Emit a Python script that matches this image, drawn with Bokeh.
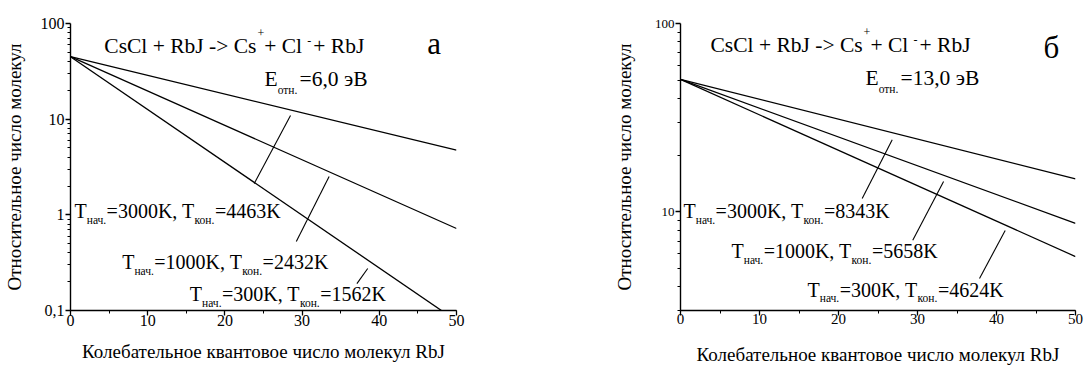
from bokeh.plotting import figure
from bokeh.models import Label, FixedTicker, SingleIntervalTicker, CustomJSTickFormatter, Range1d
from bokeh.layouts import row
from bokeh.embed import file_html
from bokeh.resources import INLINE

FONT = "Liberation Serif"

# ---------------- data ----------------
quantum_number = [0, 50]
# panel a (E = 6,0 eV)
a_3000 = [45.0, 4.75]
a_1000 = [45.0, 0.72]
a_300 = [45.0, 0.078]
# panel b (E = 13,0 eV)
b_3000 = [50.5, 15.0]
b_1000 = [50.5, 8.7]
b_300 = [50.5, 5.8]

a_labels = ["3000K", "4463K", "1000K", "2432K", "300K", "1562K"]
b_labels = ["3000K", "8343K", "1000K", "5658K", "300K", "4624K"]
a_yticks = [0.1, 1, 10, 100]
b_yticks = [10, 100]
x_title = "Колебательное квантовое число молекул RbJ"
y_title = "Относительное число молекул"

# leader lines (data coordinates)
a_leaders = [([23.8, 28.5], [2.13, 10.9]), ([29.25, 33.5], [0.526, 2.52]), ([37.1, 38.5], [0.191, 0.275])]
b_leaders = [([23.0, 26.8], [11.8, 24.2]), ([29.4, 33.3], [7.08, 14.5]), ([37.85, 41.1], [4.44, 7.97])]

# approximate Times advance widths (1/1000 em)
W = {' ': 250, '+': 564, '-': 333, '>': 564, '=': 564, ',': 250, '.': 250, 'C': 667, 's': 389,
     'l': 278, 'R': 667, 'b': 500, 'J': 389, 'T': 611, 'K': 722, 'E': 611,
     'н': 535, 'а': 444, 'ч': 500, 'к': 483, 'о': 500, 'т': 444, 'э': 440, 'В': 667}


def tw(s, size):
    return sum(W.get(c, 500) for c in s) * size / 1000.0


def put(p, x, y, text, size, dx=0.0, dy=0.0, align="left"):
    # (x, y) is the baseline anchor; text box is vertically centred, so lift by ~0.32 em
    p.add_layout(Label(x=x, y=y, x_offset=dx, y_offset=dy + 0.32 * size, text=text,
                       text_font=FONT, text_font_size=f"{size}px",
                       text_baseline="middle", text_align=align, text_color="black"))


def rich(p, x, y, pieces):
    dx = 0.0
    for text, size, dy, gap in pieces:
        dx += gap
        put(p, x, y, text, size, dx, dy)
        dx += tw(text, size)


def title_pieces(F=21.5):
    return [("CsCl + RbJ -> Cs", F, 0, 0), ("+", 12, 16, 1), (" + Cl", F, 0, 0),
            ("-", 12, 8, 0), (" + RbJ", F, 0, 2)]


def energy_pieces(val, F=21.5):
    return [("E", F, 0, 0), ("отн.", 11.5, -8, 0), ("=" + val + " эВ", F, 0, 2)]


def temp_pieces(t0, t1, F=20):
    return [("T", F, 0, 0), ("нач.", 11.5, -6, 0), ("=" + t0 + ", T", F, 0, 0),
            ("кон.", 11.5, -6, 0), ("=" + t1, F, 0, 0)]


fmt = CustomJSTickFormatter(code="""
var s = (tick >= 1) ? tick.toFixed(0) : parseFloat(tick.toPrecision(6)).toString();
return s.replace('.', ',');
""")


def make_fig(width, yr, yticks, yminor, mb_left, mb_right, mb_bottom, ytick_size, xtick_size,
             ylab_standoff, xtick_standoff, xlab_standoff):
    p = figure(width=width, height=370, y_axis_type="log",
               x_range=Range1d(0, 50), y_range=Range1d(*yr),
               output_backend="svg", toolbar_location=None,
               min_border_left=mb_left, min_border_right=mb_right,
               min_border_top=23, min_border_bottom=mb_bottom)
    p.outline_line_color = None
    p.grid.visible = False
    p.background_fill_color = "white"
    p.xaxis.ticker = SingleIntervalTicker(interval=10, num_minor_ticks=2)
    p.yaxis.ticker = FixedTicker(ticks=yticks, minor_ticks=yminor)
    p.yaxis.formatter = fmt
    for ax in (p.xaxis[0], p.yaxis[0]):
        ax.axis_line_width = 1.4
        ax.axis_line_color = "black"
        ax.major_tick_line_width = 1.3
        ax.minor_tick_line_width = 1.0
        ax.major_tick_line_color = "black"
        ax.minor_tick_line_color = "black"
        ax.major_tick_out = 5
        ax.major_tick_in = 0
        ax.minor_tick_out = 3
        ax.minor_tick_in = 0
        ax.major_label_text_font = FONT
        ax.major_label_text_color = "black"
        ax.axis_label_text_font = FONT
        ax.axis_label_text_font_style = "normal"
        ax.axis_label_text_font_size = "19px"
        ax.axis_label_text_color = "black"
    p.yaxis.major_label_text_font_size = f"{ytick_size}px"
    p.xaxis.major_label_text_font_size = f"{xtick_size}px"
    p.yaxis.major_label_standoff = 1
    p.xaxis.major_label_standoff = xtick_standoff
    p.yaxis.axis_label_standoff = ylab_standoff
    p.xaxis.axis_label_standoff = xlab_standoff
    p.xaxis.axis_label = x_title
    p.yaxis.axis_label = y_title
    return p


# ---------------- panel a ----------------
a_minor = [m * 10.0 ** e for e in range(-1, 2) for m in range(2, 10)]
pa = make_fig(568, (0.1, 100), a_yticks, a_minor, 68, 112, 60, 16, 16, 13, -1, 12)
for ys in (a_3000, a_1000, a_300):
    pa.line(quantum_number, ys, line_color="black", line_width=1.3)
for xs, ys in a_leaders:
    pa.line(xs, ys, line_color="black", line_width=1.1)
rich(pa, 4.38, 49.8, title_pieces())
rich(pa, 25.13, 22.5, energy_pieces("6,0"))
put(pa, 46.2, 48.6, "а", 31)
rich(pa, 0.52, 0.938, temp_pieces(a_labels[0], a_labels[1]))
rich(pa, 6.70, 0.275, temp_pieces(a_labels[2], a_labels[3]))
rich(pa, 15.46, 0.127, temp_pieces(a_labels[4], a_labels[5]))

# ---------------- panel b ----------------
b_minor = [3, 4, 5, 6, 7, 8, 9] + [m * 10 for m in range(2, 10)]
pb = make_fig(516, (3.0, 100), b_yticks, b_minor, 112, 9, 53, 13, 15, 17, -2, 17)
for ys in (b_3000, b_1000, b_300):
    pb.line(quantum_number, ys, line_color="black", line_width=1.3)
for xs, ys in b_leaders:
    pb.line(xs, ys, line_color="black", line_width=1.1)
rich(pb, 3.80, 70.7, title_pieces())
rich(pb, 23.42, 47.2, energy_pieces("13,0"))
put(pb, 45.95, 65.9, "б", 31)
rich(pb, 0.38, 9.31, temp_pieces(b_labels[0], b_labels[1]))
rich(pb, 6.46, 5.71, temp_pieces(b_labels[2], b_labels[3]))
rich(pb, 16.08, 3.58, temp_pieces(b_labels[4], b_labels[5]))

layout = row(pa, pb)
open("out.html", "w").write(file_html(layout, INLINE))
